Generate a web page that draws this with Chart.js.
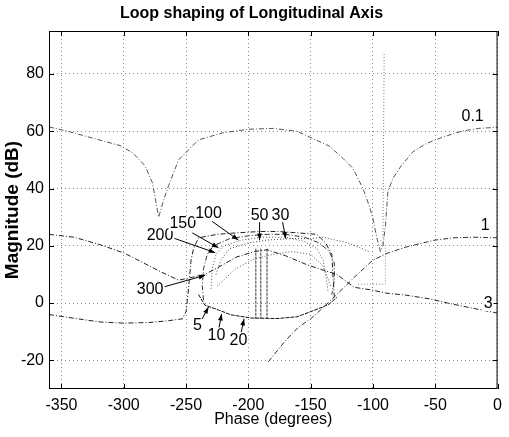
<!DOCTYPE html>
<html>
<head>
<meta charset="utf-8">
<script src="https://cdn.jsdelivr.net/npm/chart.js@4/dist/chart.umd.min.js"></script>
<style>
  html, body { margin: 0; padding: 0; background: #fff; }
  canvas { display: block; }
</style>
</head>
<body>
<canvas id="nichols" width="509" height="437"></canvas>
<script>
// axes
const xTicks = [-350, -300, -250, -200, -150, -100, -50, 0];
const yTicks = [-20, 0, 20, 40, 60, 80];

// curve ending at "0.1"
const c01Phase = [-360, -345, -320, -303, -293, -283, -277, -272, -268, -264, -256, -240, -220, -200, -180, -161, -146, -135, -124, -116, -108, -103, -100, -97, -94, -92, -90, -88, -84, -78, -68, -58, -50, -40, -29, -15, 0];
const c01Mag   = [61.5, 60, 57, 55, 52.5, 48, 42, 30, 36, 41, 50, 57, 59.5, 60.7, 61, 60, 57, 54.8, 50.5, 47, 40, 34, 29.5, 23, 18, 20, 27, 39, 43.5, 47.5, 52.8, 55.5, 57, 58.5, 60, 61, 61.4];
const vertPhase = [-91, -91.5, -92];
const vertMag   = [87, 55, 22];

// curve ending at "1"
const c1Phase = [-184, -170, -160, -150, -142, -135, -129, -115, -100, -88, -74, -60, -50, -35, -20, 0];
const c1Mag   = [-20.5, -13, -8.5, -5.5, -2.4, 0.5, 3, 9, 15, 17.5, 19.5, 21, 22, 22.8, 23, 22.8];

// long curve from upper left to "3"
const c3Phase = [-360, -340, -319, -300, -293, -272, -256, -245, -235, -222, -210, -195, -185, -170, -153, -140, -129, -115, -100, -90, -74, -55, -40, -20, 0];
const c3Mag   = [24, 23, 20.4, 17.5, 16, 11.3, 8, 9, 10, 13, 16, 18, 18.6, 16.5, 13.4, 11.5, 10, 5.5, 4.5, 3.5, 2.8, 1.5, 0, -1.8, -3.5];

// lower left curve with the step near -250
const lowPhase = [-360, -340, -319, -300, -280, -265, -253, -250, -248, -246, -244, -240, -225, -210, -190, -176, -160, -145, -138, -133, -132, -131];
const lowMag   = [-4, -5.3, -6.6, -7, -6.8, -6.2, -5.5, -3, 5, 15, 19, 22.8, 24, 24.5, 25, 25, 24.5, 24, 21, 17, 9, 2];

// lower edge of the loop (markers 5, 10, 20)
const edgePhase = [-240, -235, -224, -214, -198, -177, -161, -150, -140, -135, -129];
const edgeMag   = [3, -0.7, -2.4, -4.1, -5.2, -5.4, -4.8, -3, -1.3, -0.3, 2];

// inner curves of the loop
const in1Phase = [-236, -237, -236, -233, -228, -215, -200, -185, -170, -155, -143, -135, -131, -131, -133];
const in1Mag   = [1, 6, 12, 17, 20, 22.5, 23.5, 24, 24, 23, 21, 18, 14, 8, 3];
const in2Phase = [-230, -229, -226, -220, -205, -190, -170, -155, -145, -140, -138, -136];
const in2Mag   = [5, 12, 17, 20, 22, 23, 23, 21.5, 19, 15, 10, 4];
const in3Phase = [-226, -222, -215, -200, -185, -165, -150, -140, -120, -103];
const in3Mag   = [10, 15, 19, 21, 22, 22.5, 22.5, 23, 21, 18];
const in4Phase = [-225, -210, -195, -180, -165, -150, -140, -134];
const in4Mag   = [6, 12, 15.5, 17, 18, 17, 13, 6];

// vertical segments inside the loop
const vlPhase = [-194, -190, -185];
const vlTop = 19;
const vlBottom = -5.5;

// dotted box right of the loop
const boxPhase = [-112, -100, -90, -90, -94];
const boxMag   = [6.6, 6.6, 6.6, 19, 22];

// labels
const labelText  = ['0.1', '1', '3', '300', '200', '150', '100', '50', '30', '5', '10', '20'];
const labelPhase = [-20, -10, -7.6, -278.8, -270.9, -252.6, -232, -191, -174.3, -240.8, -225.6, -208];
const labelMag   = [65.2, 27, -0.3, 4.8, 23.4, 27.6, 31.4, 30.7, 30.7, -8, -11.4, -13.1];

// arrows: from -> to
const arrowFromPhase = [-269, -262, -245, -229, -191, -172.6, -237.6, -223.5, -205.7];
const arrowFromMag   = [5.5, 23, 24.5, 28.5, 28.5, 28.5, -5.9, -8.5, -10.2];
const arrowToPhase   = [-234.6, -226.6, -224, -208, -191, -170, -232, -221.5, -203.5];
const arrowToMag     = [9.7, 17.6, 19.3, 22, 22, 22.5, -1.4, -3.8, -5.5];

function pts(px, py) {
  return px.map((p, i) => ({ x: p, y: py[i] }));
}
function line(data, color, dash, width) {
  return {
    data: data,
    showLine: true,
    borderColor: color,
    borderWidth: width || 1,
    borderDash: dash,
    pointRadius: 0,
    tension: 0
  };
}

const DASHDOT = [5, 2, 1, 2];
const DOT = [1, 2];
const FONT = 'Arial, "Liberation Sans", sans-serif';

const datasets = [
  line(pts(c01Phase, c01Mag), '#555', DASHDOT),
  line(pts(vertPhase, vertMag), '#777', DOT),
  line(pts(c1Phase, c1Mag), '#333', DASHDOT),
  line(pts(c3Phase, c3Mag), '#222', DASHDOT),
  line(pts(lowPhase, lowMag), '#222', DASHDOT),
  line(pts(edgePhase, edgeMag), '#111', [4, 1]),
  line(pts(in1Phase, in1Mag), '#333', DASHDOT),
  line(pts(in2Phase, in2Mag), '#555', DOT),
  line(pts(in3Phase, in3Mag), '#444', DOT),
  line(pts(in4Phase, in4Mag), '#555', DOT),
  line(pts(boxPhase, boxMag), '#888', DOT)
];
vlPhase.forEach(p => {
  datasets.push(line([{ x: p, y: vlTop }, { x: p, y: vlBottom }], '#333', [3, 1]));
});

// frame, inward ticks, arrows and curve labels
const extras = {
  id: 'extras',
  afterDatasetsDraw(chart) {
    const { ctx, chartArea: a, scales: { x, y } } = chart;
    ctx.save();
    ctx.strokeStyle = '#000';
    ctx.lineWidth = 1;
    ctx.setLineDash([]);
    ctx.strokeRect(a.left + 0.5, a.top + 0.5, a.right - a.left - 1, a.bottom - a.top - 1);
    ctx.beginPath();
    xTicks.forEach(v => {
      const px = Math.round(x.getPixelForValue(v)) + 0.5;
      ctx.moveTo(px, a.bottom); ctx.lineTo(px, a.bottom - 5);
      ctx.moveTo(px, a.top); ctx.lineTo(px, a.top + 5);
    });
    yTicks.forEach(v => {
      const py = Math.round(y.getPixelForValue(v)) + 0.5;
      ctx.moveTo(a.left, py); ctx.lineTo(a.left + 5, py);
      ctx.moveTo(a.right, py); ctx.lineTo(a.right - 5, py);
    });
    ctx.stroke();

    arrowFromPhase.forEach((p, i) => {
      const x0 = x.getPixelForValue(p), y0 = y.getPixelForValue(arrowFromMag[i]);
      const x1 = x.getPixelForValue(arrowToPhase[i]), y1 = y.getPixelForValue(arrowToMag[i]);
      const ang = Math.atan2(y1 - y0, x1 - x0);
      ctx.beginPath();
      ctx.moveTo(x0, y0); ctx.lineTo(x1, y1);
      ctx.stroke();
      ctx.beginPath();
      ctx.moveTo(x1, y1);
      ctx.lineTo(x1 - 7 * Math.cos(ang - 0.35), y1 - 7 * Math.sin(ang - 0.35));
      ctx.lineTo(x1 - 7 * Math.cos(ang + 0.35), y1 - 7 * Math.sin(ang + 0.35));
      ctx.closePath();
      ctx.fillStyle = '#000';
      ctx.fill();
    });

    ctx.font = '16px ' + FONT;
    ctx.textAlign = 'center';
    ctx.textBaseline = 'middle';
    labelText.forEach((t, i) => {
      const px = x.getPixelForValue(labelPhase[i]);
      const py = y.getPixelForValue(labelMag[i]);
      const w = ctx.measureText(t).width;
      ctx.fillStyle = '#fff';
      ctx.fillRect(px - w / 2 - 1, py - 7, w + 2, 14);
      ctx.fillStyle = '#000';
      ctx.fillText(t, px, py);
    });
    ctx.restore();
  }
};

const tickFont = { family: FONT, size: 16 };

new Chart(document.getElementById('nichols').getContext('2d'), {
  type: 'scatter',
  data: { datasets: datasets },
  options: {
    responsive: false,
    animation: false,
    events: [],
    layout: { padding: { left: 0, right: 6, top: 0, bottom: 0 } },
    plugins: {
      legend: { display: false },
      tooltip: { enabled: false },
      title: {
        display: true,
        text: 'Loop shaping of Longitudinal Axis',
        color: '#000',
        font: { family: FONT, size: 16, weight: 'bold' },
        padding: { top: 4.4, bottom: 7.4 }
      }
    },
    scales: {
      x: {
        type: 'linear',
        min: -360,
        max: 0,
        afterBuildTicks: s => { s.ticks = xTicks.map(v => ({ value: v })); },
        afterFit: s => { s.height = 48; },
        grid: { color: '#888', drawTicks: false },
        border: { display: false, dash: [1, 3] },
        ticks: { color: '#000', font: tickFont, padding: 7, maxRotation: 0 },
        title: {
          display: true,
          text: 'Phase (degrees)',
          color: '#000',
          font: { family: FONT, size: 16 },
          padding: { top: 0, bottom: 8 }
        }
      },
      y: {
        type: 'linear',
        min: -30,
        max: 95,
        afterBuildTicks: s => { s.ticks = yTicks.map(v => ({ value: v })); },
        afterFit: s => { s.width = 49; },
        grid: { color: '#888', drawTicks: false },
        border: { display: false, dash: [1, 3] },
        ticks: { color: '#000', font: tickFont, padding: 5 },
        title: {
          display: true,
          text: 'Magnitude (dB)',
          color: '#000',
          font: { family: FONT, size: 19, weight: 'bold' },
          padding: { top: 1, bottom: 0 }
        }
      }
    }
  },
  plugins: [extras]
});
</script>
</body>
</html>
